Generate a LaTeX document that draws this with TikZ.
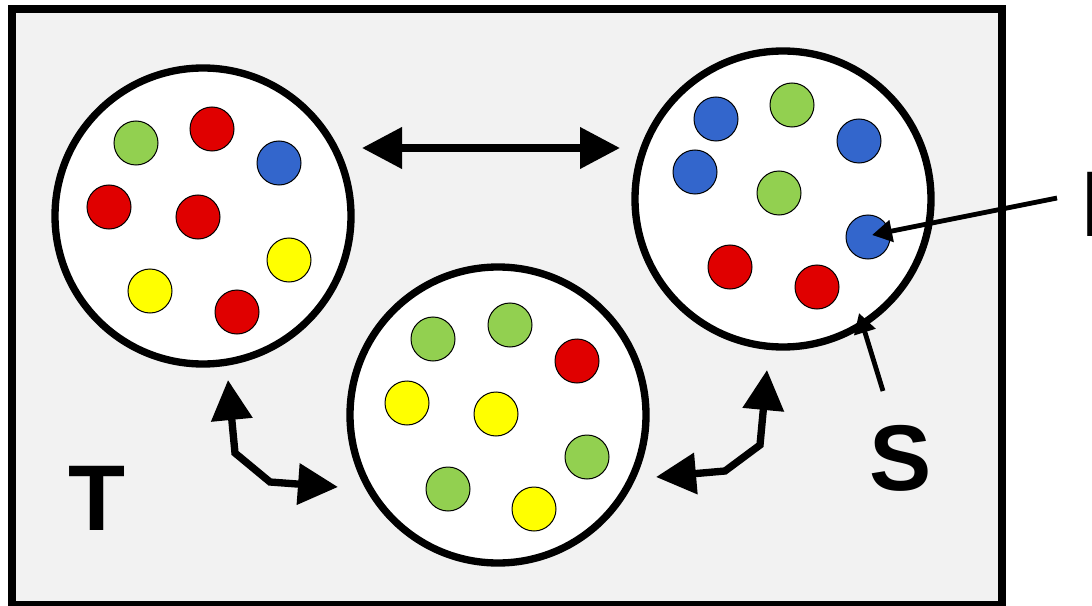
\documentclass[tikz,border=0pt]{standalone}
\usepackage{fontspec}
\setmainfont{Liberation Sans}
\usetikzlibrary{arrows.meta}
\definecolor{bgray}{HTML}{F2F2F2}
\definecolor{dred}{HTML}{E00000}
\definecolor{dgreen}{HTML}{92D050}
\definecolor{dblue}{HTML}{3366CC}
\definecolor{dyellow}{HTML}{FFFF00}
\tikzset{
  group/.style={circle, draw=black, line width=5.5pt, fill=white, minimum size=222pt, inner sep=0pt},
  dot/.style={circle, draw=black, line width=0.75pt, minimum size=33pt, inner sep=0pt},
  R/.style={dot, fill=dred},
  G/.style={dot, fill=dgreen},
  B/.style={dot, fill=dblue},
  Y/.style={dot, fill=dyellow},
  bigarrow/.style={line width=5.5pt, {Triangle[length=30pt,width=30pt]}-{Triangle[length=30pt,width=30pt]}},
  smallarrow/.style={line width=3.6pt, -{Triangle[length=15pt,width=16pt]}},
  letter/.style={font=\fontsize{70pt}{70pt}\selectfont\bfseries, inner sep=0pt}
}
\begin{document}
\begin{tikzpicture}[x=0.75pt, y=-0.75pt]
\useasboundingbox (0,0) rectangle (1092,606);
\clip (0,0) rectangle (1092,606);
\draw[line width=6pt, fill=bgray] (12,9) rectangle (1002,605);
% groups
\node[group] (g1) at (203,216) {};
\node[group] (g2) at (783,199) {};
\node[group] (g3) at (498,415) {};
% left group dots
\node[G] (a1) at (136,143) {};
\node[R] (a2) at (212,129) {};
\node[B] (a3) at (279,163) {};
\node[R] (a4) at (109,207) {};
\node[R] (a5) at (198,217) {};
\node[Y] (a6) at (289,260) {};
\node[Y] (a7) at (150,291) {};
\node[R] (a8) at (237,312) {};
% right group dots
\node[B] (b1) at (716,119) {};
\node[G] (b2) at (792,105) {};
\node[B] (b3) at (859,141) {};
\node[B] (b4) at (695,172) {};
\node[G] (b5) at (779,193) {};
\node[B] (b6) at (868,237) {};
\node[R] (b7) at (730,267) {};
\node[R] (b8) at (817,287) {};
% bottom group dots
\node[G] (c1) at (433,339) {};
\node[G] (c2) at (510,325) {};
\node[R] (c3) at (577,361) {};
\node[Y] (c4) at (407,403) {};
\node[Y] (c5) at (496,414) {};
\node[G] (c6) at (587,457) {};
\node[G] (c7) at (448,489) {};
\node[Y] (c8) at (534,509) {};
% labels
\node[letter, anchor=base] (T) at (97,530) {T};
\node[letter, anchor=base] (S) at (901,490) {S};
\node[letter, anchor=base west] (P) at (1081,236) {I};
% connector coordinates
\coordinate (t1) at (362,148);
\coordinate (t2) at (620,148);
\coordinate (l1) at (228,380);
\coordinate (l2) at (235,453);
\coordinate (l3) at (270,482);
\coordinate (l4) at (338,487);
\coordinate (r1) at (656,477);
\coordinate (r2) at (725,471);
\coordinate (r3) at (760,445);
\coordinate (r4) at (767,370);
\coordinate (s0) at (883,391);
\coordinate (s1) at (859,313);
\coordinate (p0) at (1057,198);
\coordinate (p1) at (872,235);
% arrows
\draw[bigarrow] (t1) -- (t2);
\draw[bigarrow, line join=miter] (l1) -- (l2) -- (l3) -- (l4);
\draw[bigarrow, line join=miter] (r1) -- (r2) -- (r3) -- (r4);
\draw[smallarrow] (s0) -- (s1);
\draw[smallarrow] (p0) -- (p1);
\end{tikzpicture}
\end{document}
